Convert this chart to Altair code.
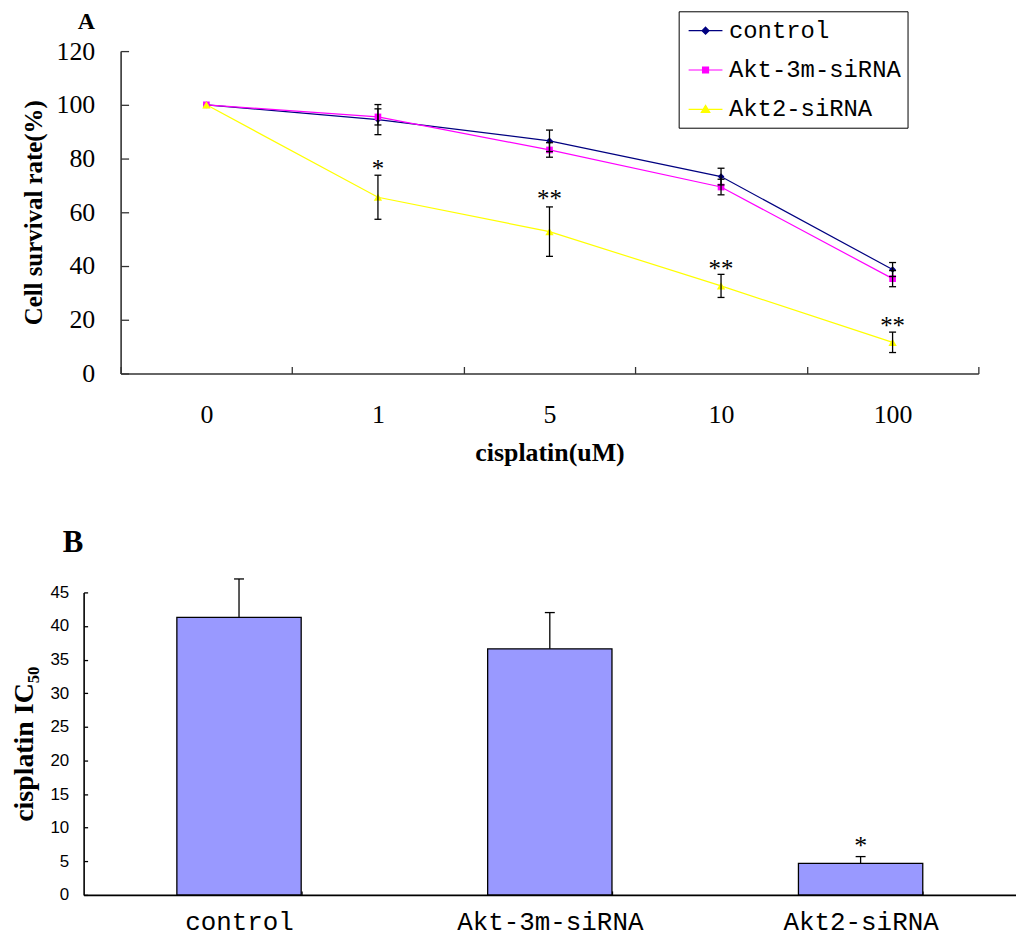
import altair as alt
import pandas as pd

# ---------------- Panel A data ----------------
conc = ["0", "1", "5", "10", "100"]
series = ["control", "Akt-3m-siRNA", "Akt2-siRNA"]
series_colors = ["#000080", "#FF00FF", "#FFFF00"]
series_shapes = ["diamond", "square", "triangle-up"]
series_sizes = [45, 45, 70]
control_mean = [100, 94.5, 86.6, 73.3, 38.7]
control_err = [0, 5.6, 4.0, 3.1, 2.6]
akt3m_mean = [100, 95.5, 83.2, 69.4, 35.3]
akt3m_err = [0, 3.0, 2.7, 2.9, 3.0]
akt2_mean = [100, 65.6, 52.8, 32.6, 11.6]
akt2_err = [0, 8.2, 9.2, 4.3, 3.8]
star_a_conc = ["1", "5", "10", "100"]
star_a_text = ["*", "**", "**", "**"]
star_a_pos = [77.8, 66.8, 40.7, 19.6]
y_ticks_a = [0, 20, 40, 60, 80, 100, 120]

# ---------------- Panel B data ----------------
groups = ["control", "Akt-3m-siRNA", "Akt2-siRNA"]
ic50 = [41.3, 36.6, 4.7]
ic50_err = [5.7, 5.4, 1.0]
star_b_group = ["Akt2-siRNA"]
star_b_text = ["*"]
star_b_pos = [8.0]
y_ticks_b = [0, 5, 10, 15, 20, 25, 30, 35, 40, 45]

# legend symbols: a short line with the marker on it
legend_paths = [
    "M-1.36,0H1.36M0,-0.28L0.28,0L0,0.28L-0.28,0Z",
    "M-1.36,0H1.36M-0.24,-0.24H0.24V0.24H-0.24Z",
    "M-1.36,0H1.36M0,-0.32L0.34,0.24H-0.34Z",
]

rows = []
for s, means, errs in zip(series, [control_mean, akt3m_mean, akt2_mean],
                          [control_err, akt3m_err, akt2_err]):
    for c, m, e in zip(conc, means, errs):
        rows.append({"series": s, "conc": c, "mean": m, "err": e,
                     "lo": m - e, "hi": m + e})
dfA = pd.DataFrame(rows)
dfErr = dfA[dfA["err"] > 0].reset_index(drop=True)
dfStarA = pd.DataFrame({"conc": star_a_conc, "txt": star_a_text, "pos": star_a_pos})

SERIF = "Liberation Serif"
MONO = "Liberation Mono"

axisAx = alt.Axis(
    title="cisplatin(uM)", titleFont=SERIF, titleFontSize=26, titleFontWeight="bold",
    titleColor="black", titlePadding=12,
    labelFont=SERIF, labelFontSize=26, labelColor="black", labelAngle=0, labelPadding=35,
    tickBand="extent", tickSize=alt.ExprRef(expr="-7"), tickColor="#333333", tickWidth=1.3,
    domainColor="#333333", domainWidth=1.6, grid=False,
)
axisAy = alt.Axis(
    values=y_ticks_a, title="Cell survival rate(%)", titleFont=SERIF, titleFontSize=25,
    titleFontWeight="bold", titleColor="black", titlePadding=10,
    labelFont=SERIF, labelFontSize=26, labelColor="black", labelPadding=34,
    tickSize=alt.ExprRef(expr="-8"), tickColor="#333333", tickWidth=1.3,
    domainColor="#333333", domainWidth=1.6, grid=False,
)
xscaleA = alt.Scale(type="band", domain=conc, paddingInner=0, paddingOuter=0)
yscaleA = alt.Scale(domain=[0, 120], nice=False, zero=True)


def XA():
    return alt.X("conc:N", sort=conc, scale=xscaleA, axis=axisAx, bandPosition=0.5)


def YA(field):
    return alt.Y(field, scale=yscaleA, axis=axisAy)


line_layers = []
point_layers = []
for s, col, shp, sz in zip(series, series_colors, series_shapes, series_sizes):
    sub = alt.Chart(dfA).transform_filter(alt.datum.series == s)
    line_layers.append(sub.mark_line(strokeWidth=1.2, color=col).encode(x=XA(), y=YA("mean:Q")))
    point_layers.append(
        sub.mark_point(filled=True, shape=shp, color=col, size=sz, opacity=1)
        .encode(x=XA(), y=YA("mean:Q"))
    )

err_rules = alt.Chart(dfErr).mark_rule(color="black", strokeWidth=1.3).encode(
    x=XA(), y=YA("lo:Q"), y2="hi:Q")
err_lo = alt.Chart(dfErr).mark_tick(color="black", thickness=1.3, size=7, opacity=1).encode(
    x=XA(), y=YA("lo:Q"))
err_hi = alt.Chart(dfErr).mark_tick(color="black", thickness=1.3, size=7, opacity=1).encode(
    x=XA(), y=YA("hi:Q"))

starsA = alt.Chart(dfStarA).mark_text(font=SERIF, fontSize=25, color="black",
                                      baseline="middle", dy=5).encode(
    x=XA(), y=YA("pos:Q"), text="txt:N")

legend_params = dict(
    orient="none", legendX=598, legendY=-40, title=None,
    labelFont=MONO, labelFontSize=24, labelColor="black", labelOffset=10, labelLimit=0,
    symbolSize=625, symbolStrokeWidth=1.2, symbolOffset=7.5, symbolOpacity=1,
    rowPadding=13.5, padding=6, strokeColor="black", fillColor="white",
)
dfLeg = dfA[dfA["conc"] == conc[0]].reset_index(drop=True)
legend_layer = alt.Chart(dfLeg).mark_point(
    filled=True, opacity=0, strokeWidth=1.2
).encode(
    x=XA(), y=YA("mean:Q"),
    fill=alt.Fill("series:N", scale=alt.Scale(domain=series, range=series_colors),
                  legend=alt.Legend(**legend_params)),
    stroke=alt.Stroke("series:N", scale=alt.Scale(domain=series, range=series_colors),
                      legend=alt.Legend(**legend_params)),
    shape=alt.Shape("series:N", scale=alt.Scale(domain=series, range=legend_paths),
                    legend=alt.Legend(**legend_params)),
)

panelA = alt.layer(*line_layers, *point_layers, err_rules, err_lo, err_hi, starsA,
                   legend_layer).properties(
    width=862, height=324,
    title=alt.TitleParams("A", anchor="start", frame="group", dx=-43, offset=4,
                          font=SERIF, fontSize=24, fontWeight="bold", color="black"),
)

# ---------------- Panel B ----------------
dfB = pd.DataFrame({"group": groups, "ic50": ic50, "err": ic50_err})
dfB["hi"] = dfB["ic50"] + dfB["err"]
dfStarB = pd.DataFrame({"group": star_b_group, "txt": star_b_text, "pos": star_b_pos})

axisBx = alt.Axis(
    title=None, labelFont=MONO, labelFontSize=26, labelColor="black", labelAngle=0,
    labelPadding=18, labelLimit=0, tickBand="extent", tickSize=alt.ExprRef(expr="-4"),
    tickColor="black", tickWidth=1.3, domainColor="black", domainWidth=1.6, grid=False,
)
axisBy = alt.Axis(
    values=y_ticks_b, title="cisplatin  IC₅₀", titleFont=SERIF, titleFontSize=28,
    titleFontWeight="bold", titleColor="black", titlePadding=11,
    labelFont="Liberation Sans", labelFontSize=17, labelColor="black", labelPadding=19,
    tickSize=alt.ExprRef(expr="-4"), tickColor="black", tickWidth=1.3,
    domainColor="black", domainWidth=1.6, grid=False,
)
xscaleB = alt.Scale(type="band", domain=groups, paddingInner=0.6, paddingOuter=0.3)
yscaleB = alt.Scale(domain=[0, 45], nice=False, zero=True)


def XB():
    return alt.X("group:N", sort=groups, scale=xscaleB, axis=axisBx)


def YB(field):
    return alt.Y(field, scale=yscaleB, axis=axisBy)


bars = alt.Chart(dfB).mark_bar(color="#9999FF", stroke="black", strokeWidth=1.3).encode(
    x=XB(), y=YB("ic50:Q"))
b_rule = alt.Chart(dfB).mark_rule(color="black", strokeWidth=1.3).encode(
    x=XB(), y=YB("ic50:Q"), y2="hi:Q")
b_cap = alt.Chart(dfB).mark_tick(color="black", thickness=1.3, size=10, opacity=1).encode(
    x=XB(), y=YB("hi:Q"))
starsB = alt.Chart(dfStarB).mark_text(font=SERIF, fontSize=26, color="black",
                                      baseline="middle", dy=5).encode(
    x=XB(), y=YB("pos:Q"), text="txt:N")

panelB = alt.layer(bars, b_rule, b_cap, starsB).properties(
    width=937, height=304,
    title=alt.TitleParams("B", anchor="start", frame="group", dx=-21, offset=19,
                          font=SERIF, fontSize=31, fontWeight="bold", color="black"),
)

chart = alt.vconcat(panelA, panelB, spacing=62, center=True).properties(
    padding={"left": 3, "top": 0, "right": 0, "bottom": 0}, background="white"
).configure_view(stroke=None)

chart.save("out.html", embed_options={"renderer": "svg", "actions": False})
